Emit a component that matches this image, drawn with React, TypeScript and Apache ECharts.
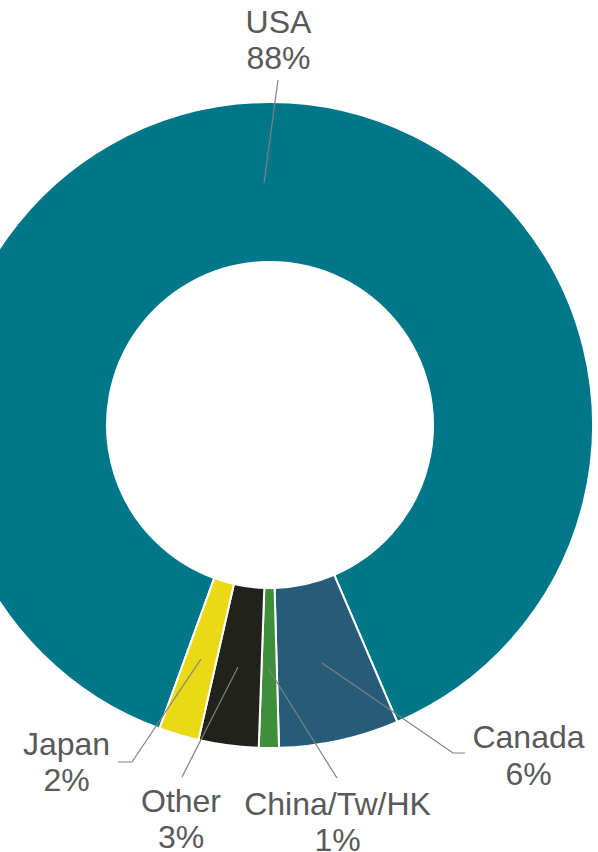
import React, { useEffect, useRef } from "react";
import * as echarts from "echarts";

const categories = ["USA", "Canada", "China/Tw/HK", "Other", "Japan"];
const shares = [88, 6, 1, 3, 2];
const sliceColors = ["#007788", "#275C78", "#3E8E3A", "#22221C", "#EBD916"];

// label anchors (center of two-line label) and leader line points
const labelAnchors: [number, number][] = [
  [278.5, 40],
  [528.5, 755.5],
  [337.5, 822],
  [181, 819],
  [66.5, 762],
];
const leaderLines: [number, number][][] = [
  [[264, 183], [278, 80]],
  [[322, 663], [453, 753], [465, 753]],
  [[268, 668], [337, 778]],
  [[238, 667], [182, 777]],
  [[201, 659], [132, 762], [118, 762]],
];

export default function App() {
  const ref = useRef<HTMLDivElement>(null);
  useEffect(() => {
    if (!ref.current) return;
    const chart = echarts.init(ref.current, undefined, { renderer: "svg" });
    chart.setOption({
      animation: false,
      backgroundColor: "#ffffff",
      series: [
        {
          type: "pie",
          center: [270, 425],
          radius: [163, 323],
          startAngle: 250,
          clockwise: true,
          avoidLabelOverlap: false,
          itemStyle: { borderColor: "#ffffff", borderWidth: 2 },
          data: categories.map((c, i) => ({
            name: c,
            value: shares[i],
            itemStyle: { color: sliceColors[i] },
          })),
          label: {
            show: true,
            position: "outside",
            formatter: (p: any) => `${p.name}\n${p.value}%`,
            fontFamily: "Liberation Sans, Arial, sans-serif",
            fontSize: 32,
            lineHeight: 36.5,
            color: "#595959",
            align: "center",
          },
          labelLine: { show: false },
          labelLayout: (params: any) => {
            const i = params.dataIndex;
            return {
              x: labelAnchors[i][0],
              y: labelAnchors[i][1],
              align: "center",
              verticalAlign: "middle",
            };
          },
        },
      ],
      graphic: leaderLines.map((pts) => ({
        type: "polyline",
        z: 100,
        silent: true,
        shape: { points: pts },
        style: { stroke: "#808080", lineWidth: 1.2, fill: null },
      })),
    });
    return () => chart.dispose();
  }, []);
  return (
    <div
      ref={ref}
      style={{ position: "absolute", left: 0, top: 0, width: 598, height: 852 }}
    />
  );
}
